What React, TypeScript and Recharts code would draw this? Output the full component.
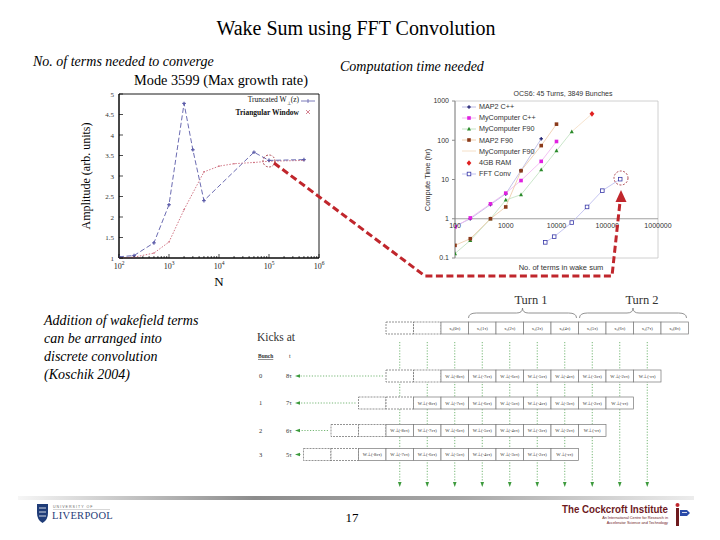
import React from 'react';
import { LineChart, Line, XAxis, YAxis, Legend, ReferenceArea, ReferenceLine } from 'recharts';

const SERIF = '"Liberation Serif", "Times New Roman", serif';
const SANS = '"Liberation Sans", Arial, sans-serif';

// left plot: Mode 3599, amplitude vs number of terms N
const truncN = [100, 200, 500, 1000, 2000, 3000, 5000, 50000, 100000, 500000];
const truncAmp = [1.03, 1.06, 1.37, 2.3, 4.77, 3.64, 2.4, 3.58, 3.38, 3.4];
const triN = [100, 200, 500, 1000, 2000, 5000, 10000, 20000, 50000, 100000, 500000];
const triAmp = [1.0, 1.02, 1.12, 1.39, 2.18, 3.1, 3.24, 3.3, 3.33, 3.36, 3.38];
const ampTicks = [1, 1.5, 2, 2.5, 3, 3.5, 4, 4.5, 5];
const decadeTicks = [100, 1000, 10000, 100000, 1000000];

// right plot: OCS6 compute time vs number of terms in wake sum
const mapCppN = [100, 200, 500, 1000, 2000, 5000];
const mapCppT = [0.64, 1.0, 2.3, 4.3, 17, 109];
const myCppN = [100, 200, 500, 1000, 2000, 5000, 10000];
const myCppT = [0.62, 1.05, 2.4, 4.5, 9.4, 29, 93];
const myF90N = [100, 200, 500, 1000, 2000, 5000, 10000, 20000];
const myF90T = [0.13, 0.28, 1.0, 3.0, 4.1, 17.7, 54, 166];
const mapF90N = [100, 200, 500, 1000, 2000, 5000, 10000];
const mapF90T = [0.21, 0.31, 1.0, 2.0, 16.7, 73, 257];
const myF90bN = [20000, 50000];
const myF90bT = [166, 470];
const ramN = [50000];
const ramT = [470];
const fftN = [6000, 9000, 20000, 40000, 80000, 180000];
const fftT = [0.25, 0.35, 0.8, 2.0, 5.2, 10.2];
const timeTicks = [0.1, 1, 10, 100, 1000];
const termLabels = ['100', '1000', '10000', '100000', '1000000'];

// convolution diagram labels
const turnSamples = ['x₀(0τ)', 'x₁(1τ)', 'x₂(2τ)', 'x₃(3τ)', 'x₀(4τ)', 'x₁(5τ)', 'x₂(6τ)', 'x₃(7τ)', 'x₀(8τ)'];
const wakeCells = ['W⊥(-8cτ)', 'W⊥(-7cτ)', 'W⊥(-6cτ)', 'W⊥(-5cτ)', 'W⊥(-4cτ)', 'W⊥(-3cτ)', 'W⊥(-2cτ)', 'W⊥(-cτ)'];
const bunchIds = ['0', '1', '2', '3'];
const kickTimes = ['8τ', '7τ', '6τ', '5τ'];
const bodyLines = ['Addition of wakefield terms', 'can be arranged into', 'discrete convolution', '(Koschik 2004)'];

const zip = (xs: number[], ys: number[]) => xs.map((n, i) => ({ n, v: ys[i] }));

const minorLogTicks = () => {
  const out: number[] = [];
  for (let d = 100; d < 1e6; d *= 10) for (let k = 1; k < 10; k++) out.push(d * k);
  out.push(1e6);
  return out;
};

const PowTick = (props: any) => {
  const { x, y, payload } = props;
  const lg = Math.log10(payload.value);
  const major = Math.abs(lg - Math.round(lg)) < 1e-6;
  return (
    <g>
      <line x1={x} y1={y} x2={x} y2={y - (major ? 4 : 2)} stroke="#000" strokeWidth={0.7} />
      {major && (
        <text x={x} y={y + 11} textAnchor="middle" fontSize={8} fontFamily={SERIF} fill="#222">
          10<tspan dy={-4} fontSize={5.5}>{Math.round(lg)}</tspan>
        </text>
      )}
    </g>
  );
};

const AmpTick = (props: any) => {
  const { x, y, payload } = props;
  return (
    <g>
      <line x1={x} y1={y} x2={x + 4} y2={y} stroke="#000" strokeWidth={0.7} />
      <text x={x - 5} y={y + 2.5} textAnchor="end" fontSize={7} fontFamily={SERIF} fill="#333">{payload.value}</text>
    </g>
  );
};

const AmpTickRight = (props: any) => {
  const { x, y } = props;
  return <line x1={x} y1={y} x2={x - 4} y2={y} stroke="#000" strokeWidth={0.7} />;
};

const ModeLegend = () => (
  <div style={{ fontFamily: SERIF, fontSize: 7.5, lineHeight: '9px', color: '#111' }}>
    <div style={{ display: 'flex', justifyContent: 'flex-end', alignItems: 'center' }}>
      <span>Truncated W<sub style={{ fontSize: 5 }}>⊥</sub>(z)</span>
      <svg width={14} height={6} style={{ marginLeft: 2 }}>
        <line x1={0} y1={3} x2={14} y2={3} stroke="#5a5aa8" strokeWidth={0.8} />
        <line x1={7} y1={1} x2={7} y2={5} stroke="#5a5aa8" strokeWidth={0.8} />
      </svg>
    </div>
    <div style={{ display: 'flex', justifyContent: 'flex-end', alignItems: 'center' }}>
      <span style={{ fontWeight: 'bold' }}>Triangular Window</span>
      <svg width={14} height={6} style={{ marginLeft: 2 }}>
        <line x1={5} y1={1} x2={9} y2={5} stroke="#cc6677" strokeWidth={0.8} />
        <line x1={5} y1={5} x2={9} y2={1} stroke="#cc6677" strokeWidth={0.8} />
      </svg>
    </div>
  </div>
);

const PlusDot = (props: any) => {
  const { cx, cy, color } = props;
  if (cx == null || cy == null) return null;
  return (
    <g>
      <line x1={cx - 1.8} y1={cy} x2={cx + 1.8} y2={cy} stroke={color} strokeWidth={1.2} />
      <line x1={cx} y1={cy - 1.8} x2={cx} y2={cy + 1.8} stroke={color} strokeWidth={1.2} />
    </g>
  );
};

const SquareDot = (props: any) => {
  const { cx, cy, color, open } = props;
  if (cx == null || cy == null) return null;
  return <rect x={cx - 1.8} y={cy - 1.8} width={3.6} height={3.6} fill={open ? '#fff' : color} stroke={color} strokeWidth={open ? 0.8 : 0} />;
};

const TriDot = (props: any) => {
  const { cx, cy, color } = props;
  if (cx == null || cy == null) return null;
  return <polygon points={`${cx},${cy - 2.2} ${cx + 2},${cy + 1.6} ${cx - 2},${cy + 1.6}`} fill={color} />;
};

const DiamondDot = (props: any) => {
  const { cx, cy, color } = props;
  if (cx == null || cy == null) return null;
  return <polygon points={`${cx},${cy - 2.8} ${cx + 2.4},${cy} ${cx},${cy + 2.8} ${cx - 2.4},${cy}`} fill={color} />;
};

const timeSeries = [
  { name: 'MAP2 C++', n: mapCppN, t: mapCppT, line: '#b4b4e2', mark: '#1a1a6e', Dot: PlusDot },
  { name: 'MyComputer C++', n: myCppN, t: myCppT, line: '#f0b4f0', mark: '#e020e0', Dot: SquareDot },
  { name: 'MyComputer F90', n: myF90N, t: myF90T, line: '#bce0bc', mark: '#2a8a2a', Dot: TriDot },
  { name: 'MAP2 F90', n: mapF90N, t: mapF90T, line: '#ecc8a4', mark: '#8a3a1a', Dot: SquareDot },
  { name: 'MyComputer F90', n: myF90bN, t: myF90bT, line: '#f4dcc2', mark: '', Dot: null },
  { name: '4GB RAM', n: ramN, t: ramT, line: 'none', mark: '#e02020', Dot: DiamondDot },
  { name: 'FFT Conv', n: fftN, t: fftT, line: '#b8b8ee', mark: '#3838a8', Dot: SquareDot },
];

const TimeLegend = () => (
  <div style={{ fontFamily: SANS, fontSize: 7.2, lineHeight: '11.2px', color: '#333' }}>
    {timeSeries.map((s, i) => (
      <div key={i} style={{ display: 'flex', alignItems: 'center', height: 11.2 }}>
        <svg width={14} height={8} style={{ marginRight: 3 }}>
          {s.line !== 'none' && <line x1={0} y1={4} x2={14} y2={4} stroke={s.line} strokeWidth={0.9} />}
          {s.Dot && <s.Dot cx={7} cy={4} color={s.mark} open={s.name === 'FFT Conv'} />}
        </svg>
        <span>{s.name}</span>
      </div>
    ))}
  </div>
);

// Y of the value-1 line inside the right plot (the category axis crosses there)
const TIME_PLOT_H = 157;
const ONE_OFFSET = TIME_PLOT_H * (Math.log10(1) - Math.log10(0.1)) / (Math.log10(1000) - Math.log10(0.1));

const TermTick = (props: any) => {
  const { x, y, index } = props;
  return (
    <text x={x} y={y - ONE_OFFSET + 9} textAnchor="middle" fontSize={7} fontFamily={SANS} fill="#333">
      {termLabels[index]}
    </text>
  );
};

const ModeChart = () => (
  <LineChart width={275} height={205} margin={{ top: 9, right: 16, bottom: 7, left: 19 }}>
    <ReferenceArea x1={100} x2={1e6} y1={1} y2={5} fill="none" stroke="#000" strokeWidth={0.9} />
    <XAxis dataKey="n" type="number" scale="log" domain={[100, 1e6]} ticks={minorLogTicks()} interval={0}
      height={25} tickSize={0} tickMargin={0} tickLine={false} axisLine={{ stroke: '#000' }} tick={<PowTick />} allowDataOverflow />
    <YAxis type="number" domain={[1, 5]} ticks={ampTicks} interval={0} width={40} tickSize={0} tickMargin={0}
      tickLine={false} axisLine={{ stroke: '#000' }} tick={<AmpTick />} />
    <YAxis yAxisId="r" orientation="right" type="number" domain={[1, 5]} ticks={ampTicks} interval={0} width={0}
      tickSize={0} tickMargin={0} tickLine={false} axisLine={false} tick={<AmpTickRight />} />
    <Legend layout="vertical" align="center" verticalAlign="middle" wrapperStyle={{ left: 150, top: 10, width: 105 }} content={() => <ModeLegend />} />
    <Line data={zip(triN, triAmp)} dataKey="v" stroke="#cc6677" strokeWidth={0.9} strokeDasharray="1.5 1.5"
      dot={{ r: 0.8, fill: '#cc6677', stroke: 'none' }} isAnimationActive={false} />
    <Line data={zip(truncN, truncAmp)} dataKey="v" stroke="#5a5aa8" strokeWidth={0.9} strokeDasharray="5 2.5"
      dot={<PlusDot color="#5a5aa8" />} isAnimationActive={false} />
  </LineChart>
);

const TimeChart = () => (
  <LineChart width={260} height={195} margin={{ top: 16, right: 17, bottom: 20, left: 0 }}>
    <ReferenceArea x1={100} x2={1e6} y1={0.1} y2={1000} fill="none" stroke="#c4c4c4" strokeWidth={0.8} />
    <ReferenceLine y={1} stroke="#8a8a8a" strokeWidth={0.8} />
    <XAxis dataKey="n" type="number" scale="log" domain={[100, 1e6]} ticks={decadeTicks} interval={0} height={2}
      tickSize={0} tickMargin={0} tickLine={false} axisLine={false} tick={<TermTick />} allowDataOverflow />
    <YAxis type="number" scale="log" domain={[0.1, 1000]} ticks={timeTicks} interval={0} width={40} tickSize={3}
      tickMargin={3} axisLine={{ stroke: '#8a8a8a' }} tickLine={{ stroke: '#8a8a8a' }}
      tick={{ fontSize: 7, fill: '#333', fontFamily: SANS }} tickFormatter={(v: number) => String(v)} allowDataOverflow />
    <Legend layout="vertical" align="center" verticalAlign="middle" wrapperStyle={{ left: 47, top: 16, width: 90 }} content={() => <TimeLegend />} />
    {timeSeries.map((s, i) => (
      <Line key={i} data={zip(s.n, s.t)} dataKey="v" stroke={s.line} strokeWidth={0.8}
        dot={s.Dot ? <s.Dot color={s.mark} open={s.name === 'FFT Conv'} /> : false} isAnimationActive={false} />
    ))}
  </LineChart>
);

const BW = 27.5;
const BH = 12;
const TOP_Y = 322;
const ROW_Y = [370, 397, 424.5, 448.5];
const FIRST = 441;
const GREEN = '#3c9a3c';

const Brace = ({ x1, x2, y }: { x1: number; x2: number; y: number }) => {
  const m = (x1 + x2) / 2;
  return (
    <path d={`M${x1},${y} Q${x1},${y - 5} ${x1 + 8},${y - 5} L${m - 6},${y - 5} Q${m},${y - 5} ${m},${y - 10} Q${m},${y - 5} ${m + 6},${y - 5} L${x2 - 8},${y - 5} Q${x2},${y - 5} ${x2},${y}`}
      fill="none" stroke="#777" strokeWidth={0.8} />
  );
};

const Diagram = () => {
  const dashed = { fill: '#fff', stroke: '#666', strokeWidth: 0.7, strokeDasharray: '2 1' };
  const solid = { fill: '#fff', stroke: '#777', strokeWidth: 0.7 };
  const cellText = { fontSize: 4.6, fontFamily: SERIF, fill: '#333', textAnchor: 'middle' as const };
  return (
    <g>
      <text x={531} y={304} textAnchor="middle" fontFamily={SERIF} fontSize={12.5} fill="#333">Turn 1</text>
      <text x={642} y={304} textAnchor="middle" fontFamily={SERIF} fontSize={12.5} fill="#333">Turn 2</text>
      <Brace x1={FIRST + BW} x2={FIRST + 5 * BW - 2} y={318} />
      <Brace x1={FIRST + 5 * BW + 1} x2={FIRST + 9 * BW - 2} y={318} />
      <text x={257} y={341} fontFamily={SERIF} fontSize={11.5} fill="#333">Kicks at</text>
      <text x={258} y={358} fontFamily={SERIF} fontSize={5.5} fontWeight="bold" textDecoration="underline" fill="#333">Bunch</text>
      <text x={289} y={358} fontFamily={SERIF} fontSize={6} fill="#333">t</text>
      {/* vertical green guides */}
      {Array.from({ length: 10 }).map((_, i) => {
        const cx = FIRST - 2 * BW + BW * (i + 0.5);
        return (
          <g key={'v' + i}>
            <line x1={cx} y1={342} x2={cx} y2={483} stroke={GREEN} strokeWidth={0.7} strokeDasharray="1.2 1.6" />
            <polygon points={`${cx - 1.8},${482} ${cx + 1.8},${482} ${cx},${487}`} fill={GREEN} />
          </g>
        );
      })}
      {/* sample row */}
      <rect x={FIRST - 2 * BW} y={TOP_Y} width={BW} height={BH} {...dashed} />
      <rect x={FIRST - BW} y={TOP_Y} width={BW} height={BH} {...dashed} />
      {turnSamples.map((s, i) => (
        <g key={'t' + i}>
          <rect x={FIRST + i * BW} y={TOP_Y} width={BW} height={BH} {...solid} />
          <text x={FIRST + i * BW + BW / 2} y={TOP_Y + 7.8} {...cellText}>{s}</text>
        </g>
      ))}
      {/* wake rows */}
      {bunchIds.map((b, r) => {
        const y = ROW_Y[r];
        const start = FIRST - r * BW;
        const cy = y + BH / 2;
        return (
          <g key={'r' + r}>
            <text x={259} y={cy + 2} fontFamily={SERIF} fontSize={6.5} fill="#333">{b}</text>
            <text x={286} y={cy + 2} fontFamily={SERIF} fontSize={6.5} fill="#333">{kickTimes[r]}</text>
            <line x1={start - 2 * BW - 3} y1={cy} x2={299} y2={cy} stroke={GREEN} strokeWidth={0.7} strokeDasharray="1.2 1.6" />
            <polygon points={`${300},${cy - 1.8} ${300},${cy + 1.8} ${295},${cy}`} fill={GREEN} />
            <rect x={start - 2 * BW} y={y} width={BW} height={BH} {...dashed} />
            <rect x={start - BW} y={y} width={BW} height={BH} {...dashed} />
            {wakeCells.map((w, i) => (
              <g key={i}>
                <rect x={start + i * BW} y={y} width={BW} height={BH} {...solid} />
                <text x={start + i * BW + BW / 2} y={y + 7.8} {...cellText}>{w}</text>
              </g>
            ))}
          </g>
        );
      })}
    </g>
  );
};

const Overlay = () => (
  <svg width={720} height={540} style={{ position: 'absolute', left: 0, top: 0, pointerEvents: 'none' }}>
    <defs>
      <linearGradient id="footBar" x1="0" x2="1" y1="0" y2="0">
        <stop offset="0" stopColor="#f6f6f6" />
        <stop offset="0.35" stopColor="#8c8c8c" />
        <stop offset="0.65" stopColor="#a6a6a6" />
        <stop offset="1" stopColor="#ececec" />
      </linearGradient>
    </defs>
    <text x={356} y={35} textAnchor="middle" fontFamily={SERIF} fontSize={20}>Wake Sum using FFT Convolution</text>
    <text x={33} y={66} fontFamily={SERIF} fontStyle="italic" fontSize={14}>No. of terms needed to converge</text>
    <text x={340} y={71} fontFamily={SERIF} fontStyle="italic" fontSize={14}>Computation time needed</text>
    <text x={221} y={85} textAnchor="middle" fontFamily={SERIF} fontSize={14.3}>Mode 3599 (Max growth rate)</text>
    <text transform="translate(90,176) rotate(-90)" textAnchor="middle" fontFamily={SERIF} fontSize={12}>Amplitude (arb. units)</text>
    <text x={219} y={286} textAnchor="middle" fontFamily={SERIF} fontSize={13}>N</text>
    <text x={563} y={96} textAnchor="middle" fontFamily={SANS} fontSize={7} fill="#333">OCS6: 45 Turns, 3849 Bunches</text>
    <text transform="translate(430,180) rotate(-90)" textAnchor="middle" fontFamily={SANS} fontSize={7.5} fill="#333">Compute Time (hr)</text>
    <text x={561} y={270} textAnchor="middle" fontFamily={SANS} fontSize={7.5} fill="#333">No. of terms in wake sum</text>
    {bodyLines.map((l, i) => (
      <text key={i} x={44} y={325 + i * 18} fontFamily={SERIF} fontStyle="italic" fontSize={14}>{l}</text>
    ))}
    <Diagram />
    {/* annotation circles and red connector */}
    <circle cx={269} cy={161} r={6} fill="none" stroke="#9a1f2c" strokeWidth={0.8} strokeDasharray="2 1.5" />
    <circle cx={621} cy={178} r={7} fill="none" stroke="#9a1f2c" strokeWidth={0.8} strokeDasharray="2 1.5" />
    <polyline points="274,163 425,276 612,276 620,202" fill="none" stroke="#c0262c" strokeWidth={3} strokeDasharray="7 3.5" />
    <polygon points="621,190 615.5,202 626.5,202" fill="#c0262c" />
    {/* footer */}
    <rect x={18} y={496} width={676} height={4} fill="url(#footBar)" />
    <text x={352} y={522} textAnchor="middle" fontFamily={SERIF} fontSize={13}>17</text>
    <path d="M37,504 h11 v9 q0,7 -5.5,10 q-5.5,-3 -5.5,-10 z" fill="#1f3c78" />
    <path d="M39,508 h7 M39,512 h7 M39,516 h7" stroke="#fff" strokeWidth={0.8} />
    <text x={53} y={508} fontFamily={SANS} fontSize={3.6} letterSpacing={1} fill="#666">UNIVERSITY OF</text>
    <line x1={53} y1={509.5} x2={110} y2={509.5} stroke="#999" strokeWidth={0.4} />
    <text x={52} y={519} fontFamily={SERIF} fontSize={10.5} letterSpacing={0.3} fill="#1f3c78">LIVERPOOL</text>
    <text x={668} y={513} textAnchor="end" fontFamily={SANS} fontWeight="bold" fontSize={10} textLength={106} lengthAdjust="spacingAndGlyphs" fill="#6e1a1e">The Cockcroft Institute</text>
    <text x={668} y={518.5} textAnchor="end" fontFamily={SANS} fontSize={3.8} fill="#6e1a1e">An International Centre for Research in</text>
    <text x={668} y={523.5} textAnchor="end" fontFamily={SANS} fontSize={3.8} fill="#6e1a1e">Accelerator Science and Technology</text>
    <circle cx={677.5} cy={505} r={2} fill="#c0262c" />
    <rect x={676} y={508} width={3} height={18} fill="#6e1a1e" />
    <path d="M680,510 h7 l3,3 l-3,3 h-7 z" fill="#2a4aa8" />
    <path d="M682,512.5 h5" stroke="#fff" strokeWidth={0.8} />
  </svg>
);

export default function App() {
  return (
    <div style={{ position: 'absolute', left: 0, top: 0, width: 720, height: 540, background: '#fff', overflow: 'hidden', fontFamily: SERIF }}>
      <div style={{ position: 'absolute', left: 60, top: 85 }}>
        <ModeChart />
      </div>
      <div style={{ position: 'absolute', left: 415, top: 85 }}>
        <TimeChart />
      </div>
      <Overlay />
    </div>
  );
}
